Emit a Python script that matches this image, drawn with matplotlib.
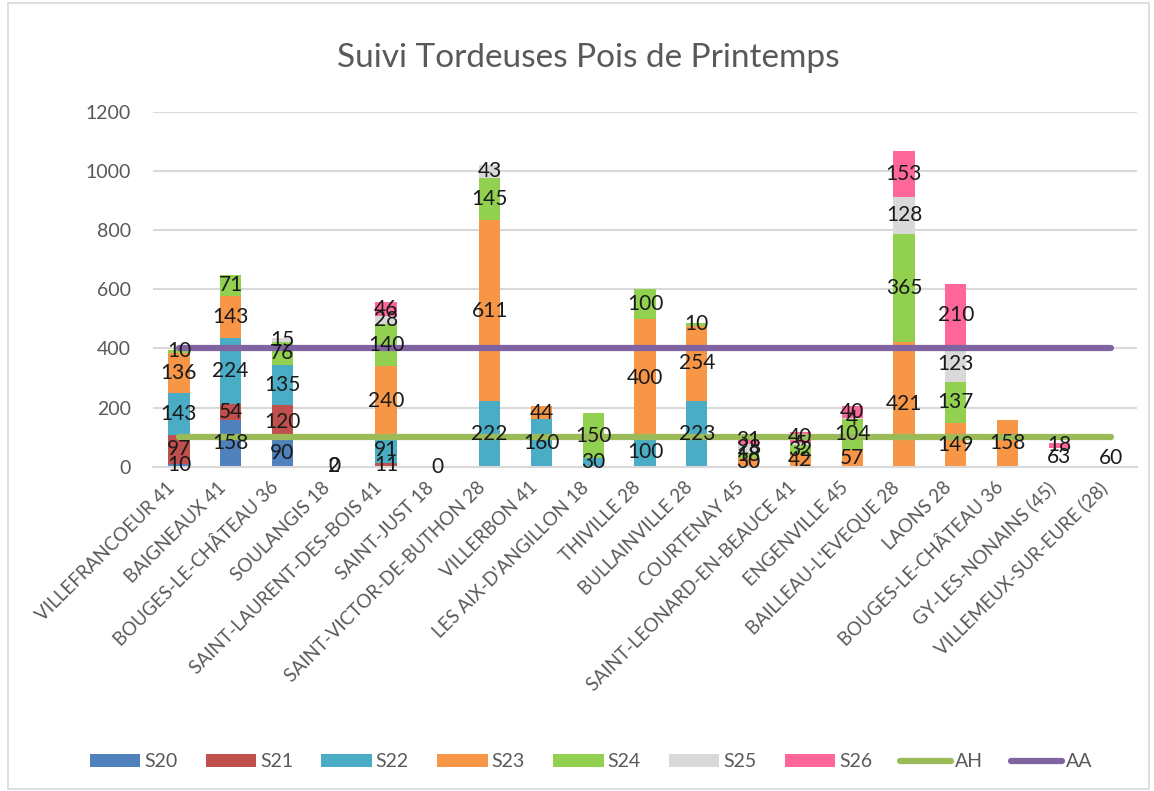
import matplotlib
matplotlib.use('Agg')
import matplotlib.pyplot as plt
import matplotlib.transforms as mtransforms
from matplotlib.patches import Patch, Rectangle
from matplotlib.lines import Line2D
import numpy as np

plt.rcParams['font.family'] = ['Lato', 'DejaVu Sans']

N = None
sites = ["VILLEFRANCOEUR 41", "BAIGNEAUX 41", "BOUGES-LE-CHÂTEAU 36", "SOULANGIS 18",
         "SAINT-LAURENT-DES-BOIS 41", "SAINT-JUST 18", "SAINT-VICTOR-DE-BUTHON 28",
         "VILLERBON 41", "LES AIX-D'ANGILLON 18", "THIVILLE 28", "BULLAINVILLE 28",
         "COURTENAY 45", "SAINT-LEONARD-EN-BEAUCE 41", "ENGENVILLE 45",
         "BAILLEAU-L'EVEQUE 28", "LAONS 28", "BOUGES-LE-CHÂTEAU 36",
         "GY-LES-NONAINS (45)", "VILLEMEUX-SUR-EURE (28)"]

# captures par semaine (vide = pas de relevé)
autre = [N, N, N, N, N, N, N, N, N, N, N, N, N, N, N, N, N, 63, 60]
s20 = [10, 158, 90, N, N, N, N, N, N, N, N, N, N, N, N, N, N, N, N]
s21 = [97, 54, 120, N, 11, N, N, N, N, N, N, N, N, N, N, N, N, N, N]
s22 = [143, 224, 135, 2, 91, 0, 222, 160, 30, 100, 223, N, N, N, N, N, N, N, N]
s23 = [136, 143, N, 0, 240, N, 611, 44, N, 400, 254, 30, 42, 57, 421, 149, 158, N, N]
s24 = [10, 71, 76, N, 140, N, 145, N, 150, 100, 10, 18, 32, 104, 365, 137, N, N, N]
s25 = [N, N, 15, N, 28, N, 43, N, N, N, N, 28, 5, 4, 128, 123, N, N, N]
s26 = [N, N, N, N, 46, N, N, N, N, N, N, 31, 40, 40, 153, 210, N, 18, N]
ah = [100] * 19
aa = [400] * 19

series = [("autre", autre, "none"),
          ("S20", s20, "#4F81BD"),
          ("S21", s21, "#C0504D"),
          ("S22", s22, "#4BACC6"),
          ("S23", s23, "#F79646"),
          ("S24", s24, "#92D050"),
          ("S25", s25, "#D9D9D9"),
          ("S26", s26, "#FF6699")]

fig = plt.figure(figsize=(11.54, 7.91), dpi=100)
ax = fig.add_axes([153 / 1154, 1 - 466.7 / 791, (1137 - 153) / 1154, (466.7 - 112) / 791])

x = np.arange(len(sites))
bottom = np.zeros(len(sites))
for name, vals, col in series:
    h = np.array([0 if v is None else v for v in vals], dtype=float)
    bars = ax.bar(x, h, bottom=bottom, width=0.41, color=col, zorder=2, linewidth=0)
    labels = ['' if v is None else str(v) for v in vals]
    ax.bar_label(bars, labels=labels, label_type='center', fontsize=15,
                 color='#1a1a1a', zorder=5)
    bottom += h

ax.plot(x, ah, color='#9BBB59', lw=4.5, solid_capstyle='round', zorder=3)
ax.plot(x, aa, color='#8064A2', lw=4.5, solid_capstyle='round', zorder=3)

ax.set_xlim(-0.5, len(sites) - 0.5)
ax.set_ylim(0, 1200)
ax.set_yticks(range(0, 1201, 200))
ax.yaxis.grid(True, color='#D9D9D9', lw=1.5, zorder=0)
ax.set_axisbelow(True)
for s in ['top', 'right', 'left']:
    ax.spines[s].set_visible(False)
ax.spines['bottom'].set_color('#D9D9D9')
ax.spines['bottom'].set_linewidth(1.5)
ax.tick_params(axis='both', length=0, labelsize=14, colors='#595959')
ax.tick_params(axis='y', pad=16)
ax.set_xticks(x)
ax.set_xticklabels(sites, rotation=45, ha='right', rotation_mode='anchor', fontsize=13.5)
ax.tick_params(axis='x', pad=10)
shift = mtransforms.ScaledTranslation(-13 / 100, 2 / 100, fig.dpi_scale_trans)
for lab in ax.get_xticklabels():
    lab.set_transform(lab.get_transform() + shift)

fig.text(0.51, 0.927, "Suivi Tordeuses Pois de Printemps", ha='center', va='center',
         fontsize=24, color='#595959')

handles = [Patch(facecolor=c, label=n) for n, v, c in series[1:]]
handles += [Line2D([], [], color='#9BBB59', lw=4.5, solid_capstyle='round', label='AH'),
            Line2D([], [], color='#8064A2', lw=4.5, solid_capstyle='round', label='AA')]
fig.legend(handles=handles, ncol=9, loc='center', bbox_to_anchor=(0.512, 0.037),
           frameon=False, fontsize=14, handlelength=2.6, handleheight=0.62,
           handletextpad=0.2, columnspacing=1.45, labelcolor='#595959')

fig.patches.append(Rectangle((8 / 1154, 2 / 791), 1141 / 1154, 786 / 791, transform=fig.transFigure,
                             fill=False, edgecolor='#D9D9D9', lw=1.2))

fig.savefig('out.png', dpi=100)
